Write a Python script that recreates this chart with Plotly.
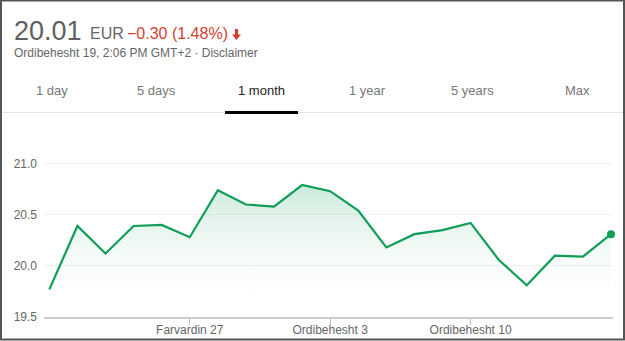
import plotly.graph_objects as go

# ---- data ----
idx = list(range(21))
prices = [19.77, 20.39, 20.12, 20.39, 20.40, 20.28, 20.74, 20.60, 20.58, 20.79,
          20.73, 20.54, 20.18, 20.31, 20.35, 20.42, 20.06, 19.81, 20.10, 20.09, 20.31]
x_tick_pos = [5, 10, 15]
x_tick_text = ["Farvardin 27", "Ordibehesht 3", "Ordibehesht 10"]
y_ticks = [19.5, 20.0, 20.5, 21.0]
tabs = ["1 day", "5 days", "1 month", "1 year", "5 years", "Max"]
tab_centers = [51.5, 156, 261, 367, 472, 577.5]
active_tab = "1 month"

W_FIG, H_FIG = 625, 341
L, R, T, B = 44, 12, 138, 24
PW, PH = W_FIG - L - R, H_FIG - T - B


def px(x):
    return (x - L) / PW


def py(y):
    return 1 - (y - T) / PH


GREEN = "#0f9d58"
FONT = "Liberation Sans, Arial, sans-serif"

fig = go.Figure()
fig.add_trace(go.Scatter(
    x=idx, y=prices, mode="lines", fill="tozeroy",
    line=dict(color=GREEN, width=2.2),
    fillgradient=dict(type="vertical",
                      colorscale=[[0, "rgba(255,255,255,0)"], [1, "rgba(15,157,88,0.22)"]],
                      start=19.55, stop=20.8),
    hoverinfo="skip", showlegend=False))
fig.add_trace(go.Scatter(
    x=[idx[-1]], y=[prices[-1]], mode="markers", cliponaxis=False,
    marker=dict(color=GREEN, size=8), hoverinfo="skip", showlegend=False))


def note(x, y, text, size, color, xanchor="left"):
    return dict(x=px(x), y=py(y), xref="paper", yref="paper", text=text, showarrow=False,
                xanchor=xanchor, yanchor="middle",
                font=dict(family=FONT, size=size, color=color))


ann = []
ann.append(note(12, 31, "20.01", 27, "#5f5f5f"))
ann.append(note(88, 33, "EUR", 16, "#666666"))
ann.append(note(125, 33, "\u22120.30 (1.48%)", 16, "#d23f31"))
ann.append(note(12, 53, "Ordibehesht 19, 2:06 PM GMT+2 \u00b7 Disclaimer", 12, "#666666"))
for t, c in zip(tabs, tab_centers):
    ann.append(note(c, 90, t, 13, "#222222" if t == active_tab else "#777777", xanchor="center"))

shapes = []
# separator
shapes.append(dict(type="line", xref="paper", yref="paper", x0=px(2), x1=px(623), y0=py(112.5),
                   y1=py(112.5), line=dict(color="#e3e3e3", width=1)))
# active tab underline
shapes.append(dict(type="rect", xref="paper", yref="paper", x0=px(225), x1=px(298), y0=py(111),
                   y1=py(114), fillcolor="#000000", line=dict(width=0)))
# down arrow
ax = 236.5
path = (f"M {px(ax-1.5)} {py(29)} L {px(ax+1.5)} {py(29)} L {px(ax+1.5)} {py(34.5)} "
        f"L {px(ax+4.5)} {py(34.5)} L {px(ax)} {py(40)} L {px(ax-4.5)} {py(34.5)} "
        f"L {px(ax-1.5)} {py(34.5)} Z")
shapes.append(dict(type="path", xref="paper", yref="paper", path=path, fillcolor="#d23f31",
                   line=dict(width=0)))
# outer border
shapes.append(dict(type="rect", xref="paper", yref="paper", x0=px(1), x1=px(624), y0=py(0.5),
                   y1=py(339.5), line=dict(color="#555555", width=2), layer="above"))

fig.update_layout(
    width=W_FIG, height=H_FIG,
    margin=dict(l=L, r=R, t=T, b=B),
    paper_bgcolor="white", plot_bgcolor="white",
    font=dict(family=FONT, size=12, color="#666666"),
    annotations=ann, shapes=shapes,
    xaxis=dict(range=[-0.19, 20.07], tickvals=x_tick_pos, ticktext=x_tick_text,
               showgrid=False, zeroline=False, showline=True, linecolor="#cccccc", linewidth=2,
               ticks="outside", ticklen=6, tickcolor="#bbbbbb", tickwidth=1, automargin=False,
               ticklabelstandoff=-5,
               tickfont=dict(family=FONT, size=12, color="#666666")),
    yaxis=dict(range=[19.5, 21.25], tickvals=y_ticks, tickformat=".1f",
               showgrid=True, gridcolor="#f0f0f0", gridwidth=1, zeroline=False,
               ticklabelstandoff=6, automargin=False,
               tickfont=dict(family=FONT, size=12, color="#666666")),
)

fig.write_html("out.html")
